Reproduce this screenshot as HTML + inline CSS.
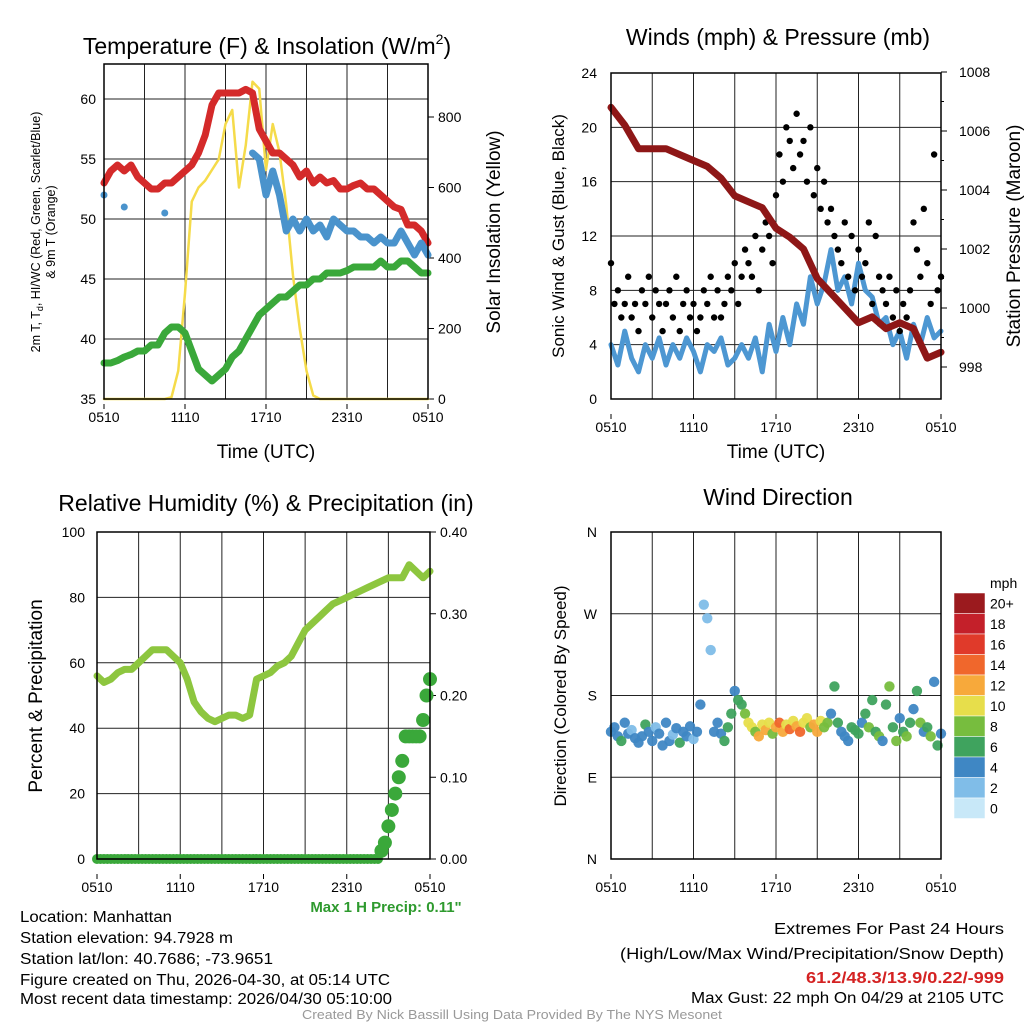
<!DOCTYPE html>
<html><head><meta charset="utf-8"><style>
html,body{margin:0;padding:0;background:#fff;}
svg{display:block;font-family:"Liberation Sans",sans-serif;}
</style></head><body>
<svg id="chart" width="1024" height="1024" viewBox="0 0 1024 1024" xmlns="http://www.w3.org/2000/svg">
<rect x="0" y="0" width="1024" height="1024" fill="#fff"/>
<g id="layer"></g>
<!-- Titles -->
<text x="267" y="54" font-size="23" text-anchor="middle">Temperature (F) &amp; Insolation (W/m<tspan font-size="14" dy="-10">2</tspan><tspan dy="10">)</tspan></text>
<text x="778" y="45" font-size="23" text-anchor="middle">Winds (mph) &amp; Pressure (mb)</text>
<text x="266" y="511" font-size="23" text-anchor="middle">Relative Humidity (%) &amp; Precipitation (in)</text>
<text x="778" y="505" font-size="23" text-anchor="middle">Wind Direction</text>
<!-- axis titles -->
<text x="266" y="458" font-size="19" text-anchor="middle">Time (UTC)</text>
<text x="776" y="458" font-size="19" text-anchor="middle">Time (UTC)</text>
<text font-size="12.5" text-anchor="middle" transform="translate(40,232) rotate(-90)">2m T, T<tspan font-size="9" dy="3">d</tspan><tspan dy="-3">, HI/WC (Red, Green, Scarlet/Blue)</tspan></text>
<text font-size="12.5" text-anchor="middle" transform="translate(55,232) rotate(-90)">&amp; 9m T (Orange)</text>
<text font-size="19" text-anchor="middle" transform="translate(500,232) rotate(-90)">Solar Insolation (Yellow)</text>
<text font-size="17" text-anchor="middle" transform="translate(564,236) rotate(-90)">Sonic Wind &amp; Gust (Blue, Black)</text>
<text font-size="19" text-anchor="middle" transform="translate(1020,236) rotate(-90)">Station Pressure (Maroon)</text>
<text font-size="19" text-anchor="middle" transform="translate(42,696) rotate(-90)">Percent &amp; Precipitation</text>
<text font-size="17" text-anchor="middle" transform="translate(566,696) rotate(-90)">Direction (Colored By Speed)</text>
<text x="386" y="912" font-size="15" font-weight="bold" fill="#2e9a2e" text-anchor="middle">Max 1 H Precip: 0.11"</text>
<!-- footer info -->
<g font-size="15.5">
<text x="20" y="922" textLength="152" lengthAdjust="spacingAndGlyphs">Location: Manhattan</text>
<text x="20" y="943" textLength="213" lengthAdjust="spacingAndGlyphs">Station elevation: 94.7928 m</text>
<text x="20" y="964" textLength="253" lengthAdjust="spacingAndGlyphs">Station lat/lon: 40.7686; -73.9651</text>
<text x="20" y="985" textLength="370" lengthAdjust="spacingAndGlyphs">Figure created on Thu, 2026-04-30, at 05:14 UTC</text>
<text x="20" y="1004" textLength="372" lengthAdjust="spacingAndGlyphs">Most recent data timestamp: 2026/04/30 05:10:00</text>
</g>
<g font-size="15.5" text-anchor="end">
<text x="1004" y="934" textLength="230" lengthAdjust="spacingAndGlyphs">Extremes For Past 24 Hours</text>
<text x="1004" y="959" textLength="384" lengthAdjust="spacingAndGlyphs">(High/Low/Max Wind/Precipitation/Snow Depth)</text>
<text x="1004" y="983" fill="#d42222" font-weight="bold" textLength="198" lengthAdjust="spacingAndGlyphs">61.2/48.3/13.9/0.22/-999</text>
<text x="1004" y="1003" textLength="313" lengthAdjust="spacingAndGlyphs">Max Gust: 22 mph On 04/29 at 2105 UTC</text>
</g>
<text x="512" y="1019" font-size="12.5" fill="#999" text-anchor="middle" textLength="420" lengthAdjust="spacingAndGlyphs">Created By Nick Bassill Using Data Provided By The NYS Mesonet</text>
</svg>
<script>
// ---- data (half-hourly, 0510 to 0510) ----
const xTickLabels = ["0510","1110","1710","2310","0510"];
const tempVals = [53,54,54.5,54,54.5,53.5,53,52.5,52.5,53,53,53.5,54,54.5,55.5,57,59.5,60.5,60.5,60.5,60.5,60.8,60.5,57.5,56.5,55.5,55.5,55,54.5,53.5,54,53,53.5,53,53.2,52.5,52.5,52.8,53,52.5,52.5,52,51.5,51,50.8,49.5,49.5,49,48];
const wcVals = [52,null,null,51,null,null,null,null,null,50.5,null,null,null,null,null,null,null,null,null,null,null,null,55.5,55,52,54,52,49,50,49,50,49,49.5,48.5,50,49.5,49,49,48.5,48.5,48,48.5,48,48,49,48,47,48,47];
const dewVals = [38,38,38.2,38.5,38.7,39,39,39.5,39.5,40.5,41,41,40.5,39,37.5,37,36.5,37,37.5,38.5,39,40,41,42,42.5,43,43.5,43.5,44,44.5,44.5,45,45,45.5,45.5,45.5,45.7,46,46,46,46,46.5,46,46,46.5,46.5,46,45.5,45.5];
const solarVals = [0,0,0,0,0,0,0,0,0,0,5,80,300,560,600,620,650,680,780,820,600,720,900,880,650,780,700,550,350,200,80,10,0,0,0,0,0,0,0,0,0,0,0,0,0,0,0,0,0];
const tempTicks = [35,40,45,50,55,60];
const solarTicks = [0,200,400,600,800];
// winds
const windVals = [4,2.5,5,3,2,4,3,4.5,2.5,4,3,4.5,3.5,2,4,3.5,4.5,2.5,3,4,3,4.5,2,5.5,3.5,6,4,7,5.5,9,7,8.5,11,8,9,7,10,8,7.5,5.5,6,4,5,3,5.5,4,6,4.5,5];
const gustVals = [10,7,8,6,7,9,6,7,5,8,7,9,6,8,7,5,7,8,6,9,5,7,8,6,7,5,6,8,7,9,6,8,6,7,9,8,10,7,9,11,10,9,12,8,11,13,12,10,15,18,16,20,19,17,21,18,19,16,20,15,17,14,16,13,14,12,11,10,13,9,12,8,11,9,10,13,7,12,9,8,7,9,6,8,5,7,6,8,13,11,9,14,10,7,18,8,9];
const pressVals = [1006.8,1006.2,1005.4,1005.4,1005.4,1005.2,1005.0,1004.8,1004.4,1003.8,1003.6,1003.4,1002.7,1002.4,1002.0,1001.0,1000.5,1000.0,999.5,999.7,999.3,999.5,999.3,998.3,998.5];
const windTicks = [0,4,8,12,16,20,24];
const pressTicks = [998,1000,1002,1004,1006,1008];
// RH & precip
const rhVals = [56,54,55,57,58,58,60,62,64,64,64,62,60,55,48,45,43,42,43,44,44,43,44,55,56,57,59,60,62,66,70,72,74,76,78,79,80,81,82,83,84,85,86,86,86,90,88,86,88];
const precipVals = [0,0,0,0,0,0,0,0,0,0,0,0,0,0,0,0,0,0,0,0,0,0,0,0,0,0,0,0,0,0,0,0,0,0,0,0,0,0,0,0,0,0,0,0,0,0,0,0,0,0,0,0,0,0,0,0,0,0,0,0,0,0,0,0,0,0,0,0,0,0,0,0,0,0,0,0,0,0,0,0,0,0,0.01,0.02,0.04,0.06,0.08,0.10,0.12,0.15,0.15,0.15,0.15,0.15,0.17,0.20,0.22];
const rhTicks = [0,20,40,60,80,100];
const precipTicks = ["0.00","0.10","0.20","0.30","0.40"];
// direction
const dirVals = [140,145,135,130,150,138,142,133,128,135,148,140,130,145,138,125,150,130,137,144,128,140,135,146,132,140,170,280,265,230,140,150,138,130,145,160,185,175,170,160,150,145,140,135,148,142,150,138,145,150,140,148,143,152,146,140,150,155,145,148,140,152,145,150,160,190,150,140,135,130,145,142,138,150,160,145,175,140,135,130,170,190,145,130,155,140,135,150,165,185,150,140,145,135,195,125,138];
const dirSpeedVals = [4,3,4,5,3,4,2,4,3,4,5,4,3,2,4,3,4,3,2,4,5,3,4,3,2,4,3,2,2,2,4,3,4,5,6,5,4,5,6,8,9,10,7,11,9,12,10,8,11,13,12,9,14,10,12,13,9,10,8,12,11,9,7,8,4,6,5,4,3,4,5,6,5,4,6,7,6,5,8,4,6,7,5,8,4,6,7,5,4,6,7,4,5,8,4,6,4];
const dirTicks = ["N","E","S","W","N"];
const speedLabels = ["0","2","4","6","8","10","12","14","16","18","20+"];
const speedColors = ["#c8e8f8","#80bde8","#3f87c4","#3fa35e","#77bd3e","#e7de4b","#f7a93b","#f0672c","#e03a2a","#c4202a","#9b1a1e"];

const NS="http://www.w3.org/2000/svg";
const layer=document.getElementById('layer');
function mk(tag,attrs,parent){const e=document.createElementNS(NS,tag);for(const k in attrs)e.setAttribute(k,attrs[k]);(parent||layer).appendChild(e);return e;}
function lin(d0,d1,r0,r1){return v=>r0+(v-d0)*(r1-r0)/(d1-d0);}
function series(vals,xs,ys){let segs=[],cur=[];vals.forEach((v,i)=>{if(v===null){if(cur.length)segs.push(cur);cur=[];}else cur.push([xs(i/(vals.length-1)*24),ys(v)]);});if(cur.length)segs.push(cur);return segs;}
function drawLine(vals,xs,ys,color,w,name){
  const g=mk('g',{});
  
  
  series(vals,xs,ys).forEach(seg=>{
    if(seg.length===1){mk('circle',{cx:seg[0][0],cy:seg[0][1],r:w/2,fill:color},g);}
    else{mk('polyline',{points:seg.map(p=>p.join(',')).join(' '),fill:'none',stroke:color,'stroke-width':w,'stroke-linejoin':'round','stroke-linecap':'round'},g);}
  });
}
function frame(x0,x1,y0,y1,name){
  const r=mk('rect',{x:x0,y:y0,width:x1-x0,height:y1-y0,fill:'none',stroke:'#000','stroke-width':1.5});
  
  
}
function vgrid(xs,y0,y1){for(let h=3;h<24;h+=3){mk('line',{x1:xs(h),x2:xs(h),y1:y0,y2:y1,stroke:'#222','stroke-width':1});}}
function xlabels(xs,y){xTickLabels.forEach((t,i)=>{const tx=mk('text',{x:xs(i*6),y:y,'font-size':14,'text-anchor':'middle'});tx.textContent=t;
  
  
  mk('line',{x1:xs(i*6),x2:xs(i*6),y1:y-18,y2:y-13,stroke:'#000'});});}

// ===== Panel 1 =====
(function(){
  const X0=104,X1=428,Y0=64,Y1=399;
  const xs=lin(0,24,X0,X1), yT=lin(35,60,399,99), yS=lin(0,800,399,117);
  vgrid(xs,Y0,Y1);
  tempTicks.forEach(t=>{const y=yT(t);if(t>35)mk('line',{x1:X0,x2:X1,y1:y,y2:y,stroke:'#222'});
    const tx=mk('text',{x:X0-8,y:y+5,'font-size':14,'text-anchor':'end'});tx.textContent=t;
    
    });
  solarTicks.forEach(t=>{const y=yS(t);mk('line',{x1:X1,x2:X1+6,y1:y,y2:y,stroke:'#000'});
    const tx=mk('text',{x:X1+10,y:y+5,'font-size':14});tx.textContent=t;
    
    });
  drawLine(solarVals,xs,yS,'#f5db4a',2.5,'solar-insolation-line');
  drawLine(tempVals,xs,yT,'#d42a2a',7,'temperature-line');
  drawLine(wcVals,xs,yT,'#4a93cc',7,'heat-index-wind-chill-line');
  drawLine(dewVals,xs,yT,'#3aa83a',7,'dewpoint-line');
  frame(X0,X1,Y0,Y1,'temperature-plot-area');
  xlabels(xs,422);
})();

// ===== Panel 2 =====
(function(){
  const X0=611,X1=941,Y0=73,Y1=399;
  const xs=lin(0,24,X0,X1), yW=lin(0,24,399,73), yP=lin(998,1008,367,72);
  vgrid(xs,Y0,Y1);
  windTicks.forEach(t=>{const y=yW(t);if(t>0&&t<24)mk('line',{x1:X0,x2:X1,y1:y,y2:y,stroke:'#222'});
    const tx=mk('text',{x:X0-14,y:y+5,'font-size':14,'text-anchor':'end'});tx.textContent=t;
    
    });
  pressTicks.forEach(t=>{const y=yP(t);mk('line',{x1:X1,x2:X1+6,y1:y,y2:y,stroke:'#000'});
    if(t<1008)mk('line',{x1:X1,x2:X1+3,y1:yP(t+1),y2:yP(t+1),stroke:'#000'});
    const tx=mk('text',{x:X1+18,y:y+5,'font-size':14});tx.textContent=t;
    
    });
  drawLine(windVals,xs,yW,'#4d97d2',5,'sonic-wind-line');
  const g=mk('g',{});
  
  
  gustVals.forEach((v,i)=>{mk('circle',{cx:xs(i/(gustVals.length-1)*24),cy:yW(v),r:3.2,fill:'#000'},g);});
  drawLine(pressVals,xs,yP,'#8e1717',7,'pressure-line');
  frame(X0,X1,Y0,Y1,'winds-plot-area');
  xlabels(xs,432);
})();

// ===== Panel 3 =====
(function(){
  const X0=97,X1=430,Y0=532,Y1=859;
  const xs=lin(0,24,X0,X1), yR=lin(0,100,859,532), yPr=lin(0,0.4,859,532);
  vgrid(xs,Y0,Y1);
  rhTicks.forEach(t=>{const y=yR(t);if(t>0&&t<100)mk('line',{x1:X0,x2:X1,y1:y,y2:y,stroke:'#222'});
    const tx=mk('text',{x:X0-12,y:y+5,'font-size':14,'text-anchor':'end'});tx.textContent=t;
    
    });
  precipTicks.forEach(t=>{const y=yPr(+t);mk('line',{x1:X1,x2:X1+6,y1:y,y2:y,stroke:'#000'});
    const tx=mk('text',{x:X1+10,y:y+5,'font-size':14});tx.textContent=t;
    
    });
  drawLine(rhVals,xs,yR,'#8dc63f',7,'relative-humidity-line');
  const g=mk('g',{});
  
  
  precipVals.forEach((v,i)=>{mk('circle',{cx:xs(i/(precipVals.length-1)*24),cy:yPr(v),r:v>0?7:5,fill:'#3aa83a'},g);});
  frame(X0,X1,Y0,Y1,'humidity-plot-area');
  xlabels(xs,892);
})();

// ===== Panel 4 =====
(function(){
  const X0=611,X1=941,Y0=532,Y1=859;
  const xs=lin(0,24,X0,X1), yD=lin(0,360,859,532);
  vgrid(xs,Y0,Y1);
  dirTicks.forEach((t,i)=>{const y=yD(i*90);if(i>0&&i<4)mk('line',{x1:X0,x2:X1,y1:y,y2:y,stroke:'#222'});
    const tx=mk('text',{x:X0-14,y:y+5,'font-size':14,'text-anchor':'end'});tx.textContent=t;
    
    });
  const g=mk('g',{});
  
  
  dirVals.forEach((v,i)=>{const s=dirSpeedVals[i];const b=Math.min(10,Math.round(s/2));
    mk('circle',{cx:xs(i/(dirVals.length-1)*24),cy:yD(v),r:5.2,fill:speedColors[b],'fill-opacity':0.95},g);});
  frame(X0,X1,Y0,Y1,'direction-plot-area');
  xlabels(xs,892);
  // colorbar
  const cb=mk('g',{});
  
  
  const top=593,bh=20.5;
  const tt=mk('text',{x:990,y:588,'font-size':14},cb);tt.textContent='mph';
  speedLabels.forEach((l,i)=>{const k=10-i;const y=top+i*bh;
    mk('rect',{x:954,y:y,width:31,height:bh,fill:speedColors[k],stroke:'#fff','stroke-width':0.5},cb);
    const tx=mk('text',{x:990,y:y+bh/2+5,'font-size':14},cb);tx.textContent=speedLabels[k];
    
    });
})();
</script>
</body></html>
